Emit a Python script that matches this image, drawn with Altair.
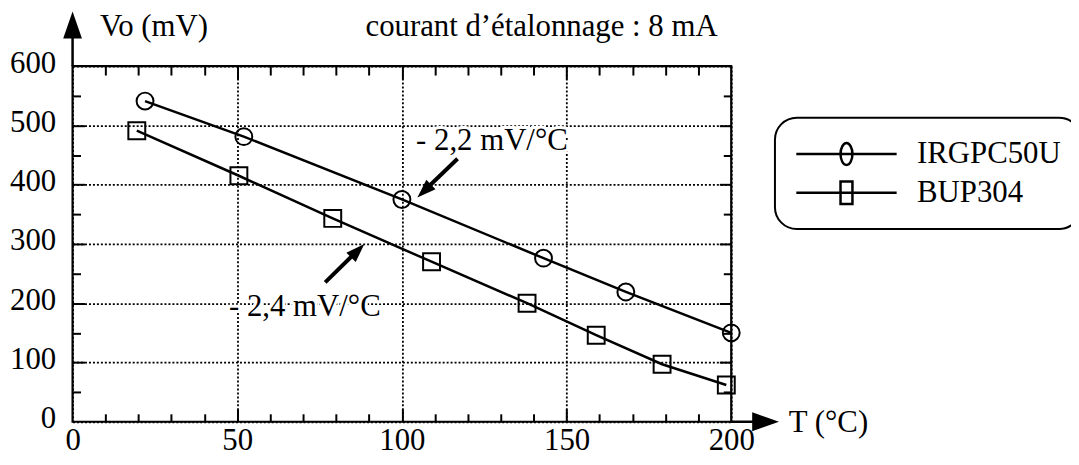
import altair as alt
import pandas as pd

# ---------------- data ----------------
series_names = ["IRGPC50U", "BUP304"]
irg_T = [22, 52, 100, 143, 168, 200]
irg_V = [541, 481, 375, 276, 219, 150]
bup_T = [19.5, 50.5, 79, 109, 138, 159, 179, 198.5]
bup_V = [491, 415, 343, 270, 200, 146, 97, 62]

x_major = [0, 50, 100, 150, 200]
y_major = [0, 100, 200, 300, 400, 500, 600]
x_inner_major = [50, 100, 150]
y_inner_major = [100, 200, 300, 400, 500]
x_minor = [10, 20, 30, 40, 60, 70, 80, 90, 110, 120, 130, 140, 160, 170, 180, 190]
y_minor = [50, 150, 250, 350, 450, 550]

title_text = ["courant d\u2019étalonnage : 8 mA"]
title_T = [142.4]
title_V = [650.5]

axis_titles = ["Vo (mV)", "T (°C)"]
axis_titles_T = [8.3, 217.5]
axis_titles_V = [650.5, -17.6]

ann_text = ["- 2,2 mV/°C", "- 2,4 mV/°C"]
ann_T = [104.3, 47.5]
ann_V = [457.7, 179]
arrow_tail_T = [116.9, 76.7]
arrow_tail_V = [443.6, 235]
arrow_base_T = [107.9, 85.3]
arrow_base_V = [395.6, 282.2]
arrow_tip_T = [104.7, 88.6]
arrow_tip_V = [378.2, 299.8]
arrow_angle = [226, 45]

# axis arrows (shaft start/end, head tip)
axis_shaft_T = [0, 200]
axis_shaft_V = [600, 0]
axis_shaft_T2 = [0, 207]
axis_shaft_V2 = [650, 0]
axis_tip_T = [0, 214.5]
axis_tip_V = [692, 0]
axis_tip_angle = [0, 90]

# ---------------- tables ----------------
df = pd.DataFrame({
    "T": irg_T + bup_T,
    "V": irg_V + bup_V,
    "series": [series_names[0]] * len(irg_T) + [series_names[1]] * len(bup_T),
})
df_title = pd.DataFrame({"text": title_text, "T": title_T, "V": title_V})
df_axt = pd.DataFrame({"text": axis_titles, "T": axis_titles_T, "V": axis_titles_V})
df_ann = pd.DataFrame({"text": ann_text, "T": ann_T, "V": ann_V})
df_shaft = pd.DataFrame({"T": arrow_tail_T, "V": arrow_tail_V, "T2": arrow_base_T, "V2": arrow_base_V})
df_head = pd.DataFrame({"T": arrow_tip_T, "V": arrow_tip_V, "angle": arrow_angle, "size": [360, 360]})
df_ashaft = pd.DataFrame({"T": axis_shaft_T, "V": axis_shaft_V, "T2": axis_shaft_T2, "V2": axis_shaft_V2})
df_ahead = pd.DataFrame({"T": axis_tip_T, "V": axis_tip_V, "angle": axis_tip_angle, "size": [729, 729]})

FONT = "Liberation Serif"
FS = 31
XS = alt.Scale(domain=[0, 200], nice=False, zero=False)
YS = alt.Scale(domain=[0, 600], nice=False, zero=False)


def X(field="T", axis=None):
    return alt.X(f"{field}:Q", scale=XS, axis=axis)


def Y(field="V", axis=None):
    return alt.Y(f"{field}:Q", scale=YS, axis=axis)


def tick_axis(orient, vals, L):
    return alt.Axis(orient=orient, values=vals, offset=-L, tickSize=L, tickWidth=2,
                    tickColor="black", domain=False, labels=False, grid=False, title=None)


main_x_axis = alt.Axis(orient="bottom", values=x_major, grid=True, gridColor="black",
                       gridDash=[2, 2], gridWidth=1.8, ticks=False, domain=False,
                       labelFont=FONT, labelFontSize=FS, labelColor="black", labelPadding=4,
                       labelFlush=False, labelOverlap=False, title=None)
main_y_axis = alt.Axis(orient="left", values=y_major, grid=True, gridColor="black",
                       gridDash=[2, 2], gridWidth=1.8, ticks=False, domain=False,
                       labelFont=FONT, labelFontSize=FS, labelColor="black", labelPadding=17,
                       labelOffset=-3, labelFlush=False, labelOverlap=False, title=None)

ARROW = "M0,0L0.7,2L-0.7,2Z"
# legend symbols: symbol box is 30px (15px per unit); line runs 101px, marker in its middle
LEG_CIRCLE = ("M-1,0L5.733,0M1.967,0A0.4,0.733 0 1,0 2.767,0"
              "A0.4,0.733 0 1,0 1.967,0")
LEG_SQUARE = "M-1,0L5.733,0M1.967,-0.76L2.767,-0.76L2.767,0.76L1.967,0.76Z"

base = alt.Chart(df)

halo = alt.Chart(df_ann).mark_text(font=FONT, fontSize=FS, align="left", baseline="alphabetic",
                                    color="white", stroke="white", strokeWidth=6).encode(
    x=X(), y=Y(), text="text:N")

lines = base.mark_line(color="black", strokeWidth=2.5).encode(
    x=X(axis=main_x_axis), y=Y(axis=main_y_axis), detail="series:N")

points = base.mark_point(filled=False, color="black", strokeWidth=2, size=289, opacity=1).encode(
    x=X(), y=Y(),
    shape=alt.Shape("series:N", scale=alt.Scale(domain=series_names, range=["circle", "square"]),
                    legend=None))

legend_layer = base.transform_filter("datum.T > 100000").mark_point(
    filled=False, color="black", strokeWidth=2.5, opacity=1).encode(
    x=X(), y=Y(),
    shape=alt.Shape("series:N",
                    scale=alt.Scale(domain=series_names, range=[LEG_CIRCLE, LEG_SQUARE]),
                    legend=alt.Legend(orient="none", legendX=707, legendY=52, title=None,
                                      symbolSize=900, symbolStrokeWidth=2.5,
                                      symbolStrokeColor="black", labelFont=FONT,
                                      labelFontSize=FS, labelColor="black", labelOffset=90,
                                      rowPadding=6, labelLimit=400)))

ann = alt.Chart(df_ann).mark_text(font=FONT, fontSize=FS, align="left", baseline="alphabetic",
                                   color="black").encode(x=X(), y=Y(), text="text:N")

shafts = alt.Chart(df_shaft).mark_rule(color="black", strokeWidth=4).encode(
    x=X(), y=Y(), x2="T2:Q", y2="V2:Q")

heads = alt.Chart(df_head).mark_point(shape=ARROW, filled=True, color="black", opacity=1,
                                       strokeWidth=0).encode(
    x=X(), y=Y(), angle=alt.Angle("angle:Q", scale=None), size=alt.Size("size:Q", scale=None))

ashafts = alt.Chart(df_ashaft).mark_rule(color="black", strokeWidth=2.5).encode(
    x=X(), y=Y(), x2="T2:Q", y2="V2:Q")

aheads = alt.Chart(df_ahead).mark_point(shape=ARROW, filled=True, color="black", opacity=1,
                                         strokeWidth=0).encode(
    x=X(), y=Y(), angle=alt.Angle("angle:Q", scale=None), size=alt.Size("size:Q", scale=None))

title_layer = alt.Chart(df_title).mark_text(font=FONT, fontSize=FS, align="center",
                                             baseline="alphabetic", color="black").encode(
    x=X(), y=Y(), text="text:N")

axt_layer = alt.Chart(df_axt).mark_text(font=FONT, fontSize=FS, align="left",
                                         baseline="alphabetic", color="black").encode(
    x=X(), y=Y(), text="text:N")

t1 = base.mark_point(opacity=0).encode(x=X(axis=tick_axis("bottom", x_minor, 8)),
                                       y=Y(axis=tick_axis("left", y_minor, 8)))
t2 = base.mark_point(opacity=0).encode(x=X(axis=tick_axis("top", x_minor, 9)),
                                       y=Y(axis=tick_axis("right", y_minor, 8)))
t3 = base.mark_point(opacity=0).encode(x=X(axis=tick_axis("bottom", x_inner_major, 13)),
                                       y=Y(axis=tick_axis("left", y_inner_major, 12)))
t4 = base.mark_point(opacity=0).encode(x=X(axis=tick_axis("top", x_inner_major, 13)),
                                       y=Y(axis=tick_axis("right", y_inner_major, 12)))

chart = alt.layer(
    halo, lines, points, legend_layer, ann, shafts, heads, ashafts, aheads,
    title_layer, axt_layer, t1, t2, t3, t4
).resolve_axis(x="independent", y="independent").resolve_scale(shape="independent").properties(
    width=663, height=358,
    padding={"left": 65, "top": 57, "right": 342, "bottom": 34},
    autosize=alt.AutoSizeParams(type="none"),
).configure_view(stroke="black", strokeWidth=2.2).configure_legend(
    strokeColor="black", strokeWidth=2, cornerRadius=22, padding=20, fillColor="white"
)

chart.save("out.html", embed_options={"renderer": "svg", "actions": False})
